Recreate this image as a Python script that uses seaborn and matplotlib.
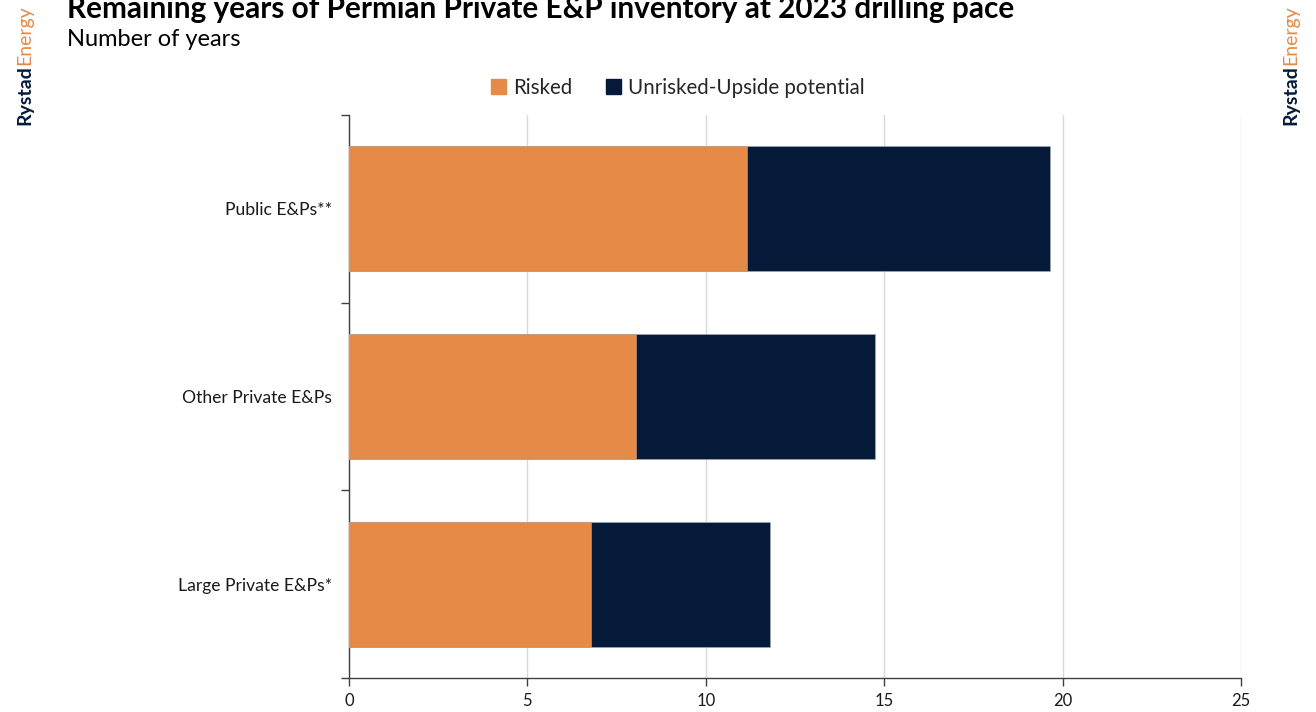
import matplotlib
matplotlib.use("Agg")
import matplotlib.pyplot as plt
import matplotlib.patches as mpatches
from matplotlib.ticker import FixedLocator
import seaborn as sns
import pandas as pd

# ---- data ----
categories = ["Public E&Ps**", "Other Private E&Ps", "Large Private E&Ps*"]
risked = [11.15, 8.05, 6.78]
upside = [8.5, 6.7, 5.02]
xticks = [0, 5, 10, 15, 20, 25]
series_names = ["Risked", "Unrisked-Upside potential"]

title = "Remaining years of Permian Private E&P inventory at 2023 drilling pace"
subtitle = "Number of years"

ORANGE = "#E68A47"
NAVY = "#041A38"

sns.set_theme(style="white")
plt.rcParams["font.family"] = ["Lato", "DejaVu Sans"]

df = pd.DataFrame({
    "category": categories,
    "risked": risked,
    "total": [r + u for r, u in zip(risked, upside)],
})

fig = plt.figure(figsize=(13.16, 7.12), dpi=100)
ax = fig.add_axes([349 / 1316, 34 / 712, 892 / 1316, 563 / 712])

sns.barplot(data=df, y="category", x="total", order=categories, color=NAVY,
            orient="h", width=0.667, ax=ax, saturation=1,
            edgecolor="#9aa3ad", linewidth=0.6, zorder=3)
sns.barplot(data=df, y="category", x="risked", order=categories, color=ORANGE,
            orient="h", width=0.667, ax=ax, saturation=1,
            edgecolor="#c9a488", linewidth=0.4, zorder=4)

ax.set_xlim(0, 25)
ax.set_ylim(2.5, -0.5)
ax.set_xlabel("")
ax.set_ylabel("")
ax.xaxis.set_major_locator(FixedLocator(xticks))
ax.set_xticklabels([str(t) for t in xticks])
ax.grid(axis="x", color="#d9d9d9", linewidth=1.0, zorder=0)
ax.grid(axis="y", visible=False)
ax.set_axisbelow(True)

for side in ["top", "right"]:
    ax.spines[side].set_visible(False)
for side in ["left", "bottom"]:
    ax.spines[side].set_color("#404040")
    ax.spines[side].set_linewidth(1.0)

ax.yaxis.set_minor_locator(FixedLocator([-0.5, 0.5, 1.5, 2.5]))
ax.tick_params(axis="y", which="major", length=0, labelsize=12.6,
               labelcolor="#1a1a1a", pad=12.5)
ax.tick_params(axis="y", which="minor", length=6, width=1.0, color="#404040",
               direction="out", left=True)
ax.tick_params(axis="x", which="major", length=6, width=1.0, color="#404040",
               direction="out", bottom=True, labelsize=12, labelcolor="#1a1a1a",
               pad=5)

# title and subtitle
fig.text(67 / 1316, 1 - 18 / 712, title, fontsize=21.4, fontweight="bold",
         color="black", ha="left", va="baseline")
fig.text(67 / 1316, 1 - 40 / 712, subtitle, fontsize=17, color="black",
         ha="left", va="center")

# legend
handles = [mpatches.Patch(color=ORANGE, label=series_names[0]),
           mpatches.Patch(color=NAVY, label=series_names[1])]
fig.legend(handles=handles, loc="center", bbox_to_anchor=(678 / 1316, 1 - 88 / 712),
           ncol=2, frameon=False, fontsize=14.8, handlelength=0.75,
           handleheight=0.75, handletextpad=0.35, columnspacing=1.6)

# logos
fig.canvas.draw()
renderer = fig.canvas.get_renderer()
for xpix in (25, 1291):
    x = xpix / 1316
    t1 = fig.text(x, 1 - 125 / 712, "Rystad", rotation=90, fontsize=14,
                  fontweight="bold", color=NAVY, ha="center", va="bottom")
    bb = t1.get_window_extent(renderer)
    top = bb.y1 / fig.bbox.height
    fig.text(x, top, "Energy", rotation=90, fontsize=14,
             color=ORANGE, ha="center", va="bottom")

fig.savefig("out.png", dpi=100)
